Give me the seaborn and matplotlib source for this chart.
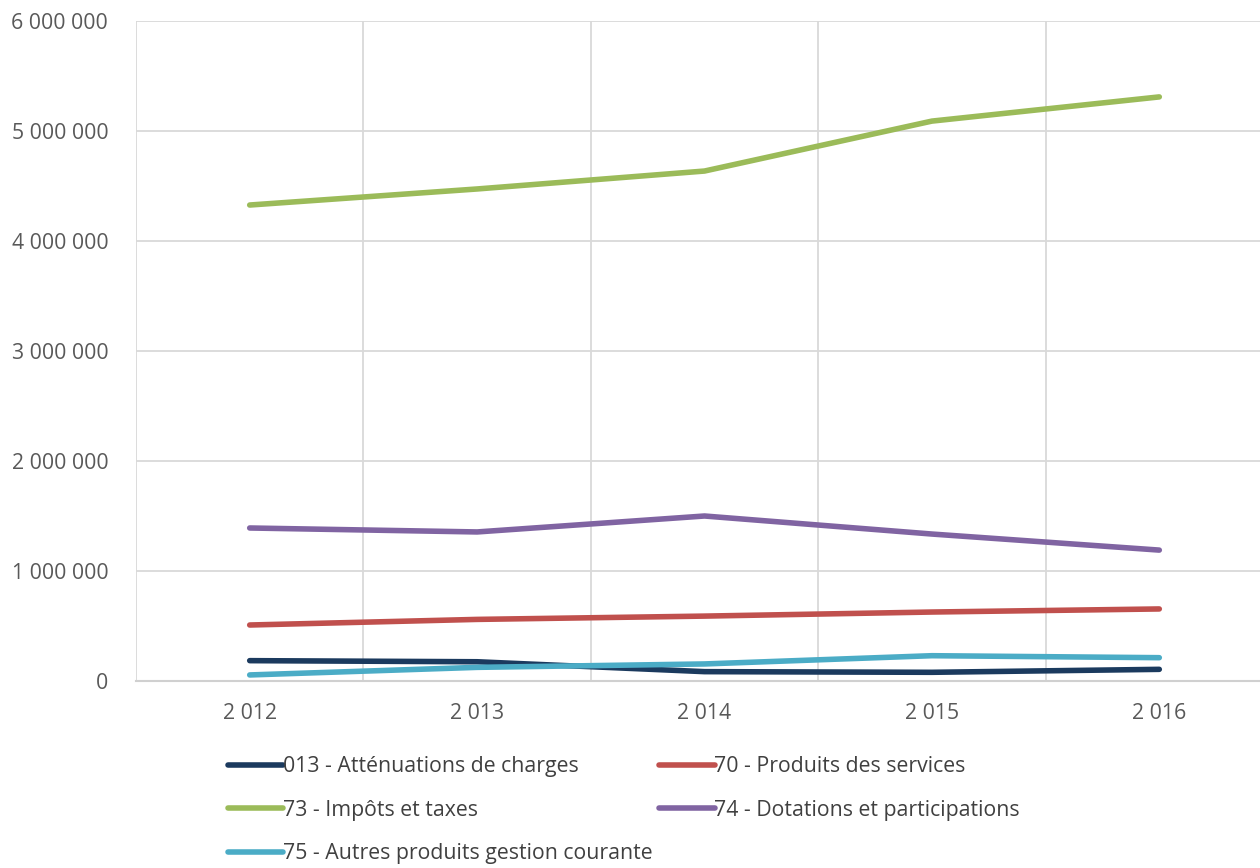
import matplotlib
matplotlib.use("Agg")
import matplotlib.pyplot as plt
import seaborn as sns
import pandas as pd
from matplotlib.ticker import FixedLocator, FuncFormatter
from matplotlib.lines import Line2D

years = ["2 012", "2 013", "2 014", "2 015", "2 016"]
s013 = [185000, 175000, 85000, 79000, 106000]
s70 = [509000, 560000, 590000, 627000, 655000]
s73 = [4327000, 4473000, 4636000, 5090000, 5310000]
s74 = [1391000, 1355000, 1500000, 1336000, 1190000]
s75 = [55000, 124000, 155000, 230000, 212000]

names = ["013 - Atténuations de charges", "70 - Produits des services",
         "73 - Impôts et taxes", "74 - Dotations et participations",
         "75 - Autres produits gestion courante"]
series = [s013, s70, s73, s74, s75]
colors = ["#1B3A5E", "#C0504D", "#9BBB59", "#8064A2", "#4BACC6"]

rows = []
for n, vals in zip(names, series):
    for i, v in enumerate(vals):
        rows.append({"x": i, "value": v, "serie": n})
df = pd.DataFrame(rows)

sns.set_style("white")
plt.rcParams['font.family'] = ['Open Sans', 'DejaVu Sans']

fig = plt.figure(figsize=(12.6, 8.68), dpi=100)
ax = fig.add_axes([136/1260, 1-681/868, 1137/1260, 660/868])

fs = 15.3
lw = 4.0
sns.lineplot(data=df, x="x", y="value", hue="serie", hue_order=names,
             palette=colors, linewidth=lw, ax=ax, sort=False, legend=False)
for ln in ax.get_lines():
    ln.set_solid_capstyle("round")

ax.set_xlim(-0.5, 4.5)
ax.set_ylim(0, 6000000)
ax.set_xticks(range(5))
ax.set_xticklabels(years)
ax.xaxis.set_minor_locator(FixedLocator([-0.5, 0.5, 1.5, 2.5, 3.5, 4.5]))
ax.set_yticks([0, 1e6, 2e6, 3e6, 4e6, 5e6, 6e6])
ax.yaxis.set_major_formatter(FuncFormatter(lambda v, p: f"{int(v):,}".replace(",", " ")))
ax.grid(True, which="major", axis="y", color="#D9D9D9", linewidth=1.3)
ax.grid(True, which="minor", axis="x", color="#D9D9D9", linewidth=1.3)
ax.grid(False, which="major", axis="x")
ax.tick_params(axis="both", which="both", length=0, labelsize=fs, colors="#595959")
ax.tick_params(axis="y", pad=20)
ax.tick_params(axis="x", pad=16)
for side in ["top", "right", "left"]:
    ax.spines[side].set_visible(False)
ax.spines["bottom"].set_color("#D0D0D0")
ax.spines["bottom"].set_linewidth(1.5)
ax.set_xlabel("")
ax.set_ylabel("")

handles = [Line2D([0], [0], color=c, linewidth=lw, solid_capstyle="round") for c in colors]
order = [0, 2, 4, 1, 3]
leg = fig.legend([handles[i] for i in order], [names[i] for i in order],
                 ncol=2, loc="upper left", bbox_to_anchor=(228/1260, 1-756/868),
                 frameon=False, fontsize=fs, handlelength=2.6, handletextpad=0.0,
                 columnspacing=0.3, labelspacing=1.07, labelcolor="#404040",
                 borderaxespad=0, borderpad=0)

fig.savefig("out.png", dpi=100)
